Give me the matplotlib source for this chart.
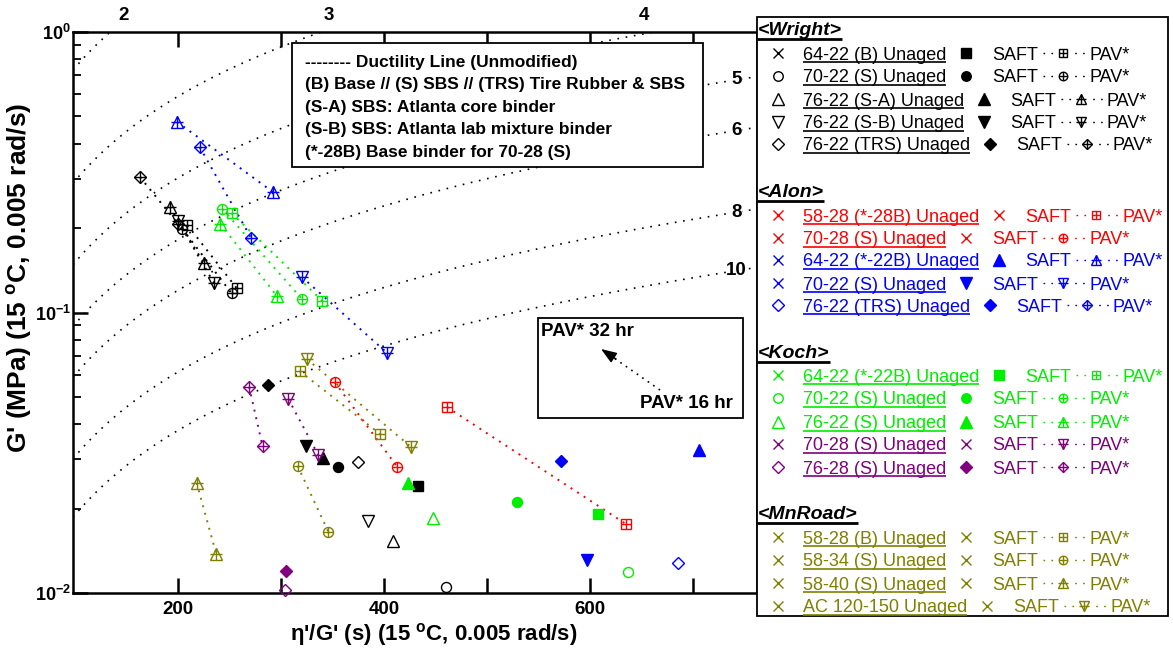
import numpy as np
import matplotlib
matplotlib.use('Agg')
import matplotlib.pyplot as plt
from matplotlib.ticker import FixedLocator, FixedFormatter, LogLocator, NullFormatter
from matplotlib.patches import Rectangle

plt.rcParams['font.family'] = ['Liberation Sans', 'DejaVu Sans']
plt.rcParams['mathtext.fontset'] = 'custom'
plt.rcParams['mathtext.rm'] = 'Liberation Sans'
plt.rcParams['mathtext.bf'] = 'Liberation Sans:bold'
plt.rcParams['mathtext.it'] = 'Liberation Sans:italic'

nan = np.nan

# ductility lines: constant G'/(eta'/G') in MPa/s, one per ductility (cm)
duct_levels = [2, 3, 4, 5, 6, 8, 10]
duct_ratio = [7.46e-3, 2.95e-3, 1.51e-3, 9.1e-4, 6.0e-4, 3.07e-4, 1.9e-4]

# ---- Wright (black) ----
wright_names = ['64-22 (B) Unaged', '70-22 (S) Unaged', '76-22 (S-A) Unaged',
                '76-22 (S-B) Unaged', '76-22 (TRS) Unaged']
wright_unaged_x = [nan, 460, 409, 384, 375]
wright_unaged_y = [nan, 0.0105, 0.0153, 0.0181, 0.0293]
wright_saft_x = [433, 355, 341, 324, 287]
wright_saft_y = [0.0241, 0.0281, 0.0303, 0.0334, 0.0551]
wright_pav16_x = [257, 252, 225, 235, 200]
wright_pav16_y = [0.122, 0.117, 0.150, 0.127, 0.207]
wright_pav32_x = [209, 204, 192, 200, 163]
wright_pav32_y = [0.205, 0.199, 0.238, 0.212, 0.304]

# ---- Alon (red / blue) ----
alon_names = ['58-28 (*-28B) Unaged', '70-28 (S) Unaged', '64-22 (*-22B) Unaged',
              '70-22 (S) Unaged', '76-22 (TRS) Unaged']
alon_unaged_x = [nan, nan, nan, nan, 685]
alon_unaged_y = [nan, nan, nan, nan, 0.0128]
alon_saft_x = [nan, nan, 706, 597, 572]
alon_saft_y = [nan, nan, 0.0324, 0.0131, 0.0296]
alon_pav16_x = [635, 413, 292, 403, 271]
alon_pav16_y = [0.0176, 0.0281, 0.269, 0.0717, 0.184]
alon_pav32_x = [461, 352, 199, 320, 221]
alon_pav32_y = [0.0460, 0.0565, 0.478, 0.134, 0.389]

# ---- Koch (green / purple) ----
koch_names = ['64-22 (*-22B) Unaged', '70-22 (S) Unaged', '76-22 (S) Unaged',
              '70-28 (S) Unaged', '76-28 (S) Unaged']
koch_unaged_x = [nan, 637, 447, nan, 304]
koch_unaged_y = [nan, 0.0119, 0.0185, nan, 0.01025]
koch_saft_x = [608, 529, 423, nan, 305]
koch_saft_y = [0.0191, 0.0211, 0.0247, nan, 0.0120]
koch_pav16_x = [340, 320, 296, 336, 282]
koch_pav16_y = [0.110, 0.112, 0.1145, 0.0311, 0.0334]
koch_pav32_x = [252, 243, 241, 307, 269]
koch_pav32_y = [0.226, 0.234, 0.207, 0.0492, 0.0543]

# ---- MnRoad (olive) ----
mn_names = ['58-28 (B) Unaged', '58-34 (S) Unaged', '58-40 (S) Unaged', 'AC 120-150 Unaged']
mn_unaged_x = [nan, nan, nan, nan]
mn_unaged_y = [nan, nan, nan, nan]
mn_saft_x = [nan, nan, nan, nan]
mn_saft_y = [nan, nan, nan, nan]
mn_pav16_x = [396, 346, 237, 426]
mn_pav16_y = [0.0369, 0.0165, 0.0138, 0.0332]
mn_pav32_x = [318, 316, 218, 325]
mn_pav32_y = [0.0618, 0.0284, 0.0247, 0.0683]

BLACK, RED, BLUE = '#000000', '#FF0000', '#0000FF'
GREEN, PURPLE, OLIVE = '#00EE00', '#800080', '#808000'

groups = [
    dict(title='<Wright>', names=wright_names, colors=[BLACK] * 5,
         um=['x', 'o', '^', 'v', 'D'], sm=['s', 'o', '^', 'v', 'D'], pm=['s', 'o', '^', 'v', 'D'],
         ux=wright_unaged_x, uy=wright_unaged_y, sx=wright_saft_x, sy=wright_saft_y,
         p16x=wright_pav16_x, p16y=wright_pav16_y, p32x=wright_pav32_x, p32y=wright_pav32_y,
         head=35, rows=[53, 76, 99, 122, 144]),
    dict(title='<Alon>', names=alon_names, colors=[RED, RED, BLUE, BLUE, BLUE],
         um=['x', 'x', 'x', 'x', 'D'], sm=['x', 'x', '^', 'v', 'D'], pm=['s', 'o', '^', 'v', 'D'],
         ux=alon_unaged_x, uy=alon_unaged_y, sx=alon_saft_x, sy=alon_saft_y,
         p16x=alon_pav16_x, p16y=alon_pav16_y, p32x=alon_pav32_x, p32y=alon_pav32_y,
         head=197, rows=[215, 238, 260, 283, 305]),
    dict(title='<Koch>', names=koch_names, colors=[GREEN, GREEN, GREEN, PURPLE, PURPLE],
         um=['x', 'o', '^', 'x', 'D'], sm=['s', 'o', '^', 'x', 'D'], pm=['s', 'o', '^', 'v', 'D'],
         ux=koch_unaged_x, uy=koch_unaged_y, sx=koch_saft_x, sy=koch_saft_y,
         p16x=koch_pav16_x, p16y=koch_pav16_y, p32x=koch_pav32_x, p32y=koch_pav32_y,
         head=358, rows=[375, 398, 422, 444, 467]),
    dict(title='<MnRoad>', names=mn_names, colors=[OLIVE] * 4,
         um=['x'] * 4, sm=['x'] * 4, pm=['s', 'o', '^', 'v'],
         ux=mn_unaged_x, uy=mn_unaged_y, sx=mn_saft_x, sy=mn_saft_y,
         p16x=mn_pav16_x, p16y=mn_pav16_y, p32x=mn_pav32_x, p32y=mn_pav32_y,
         head=519, rows=[537, 560, 583, 606]),
]

MS = {'s': 7.0, 'o': 7.2, '^': 8.4, 'v': 8.4, 'D': 6.3, 'x': 7.5}


def plain_marker(a, x, y, m, c, filled, **kw):
    ms = MS[m] * kw.pop('scale', 1.0)
    a.plot([x], [y], ls='none', marker=m, ms=ms, mec=c, mew=1.0,
           mfc=c if filled and m != 'x' else 'none', **kw)


def pav_marker(a, x, y, m, c, **kw):
    scale = kw.pop('scale', 1.0)
    ms = MS[m] * scale
    a.plot([x], [y], ls='none', marker=m, ms=ms, mec=c, mfc='none', mew=1.0, **kw)
    plus = ms * (1.41 if m == 'D' else 1.0)
    a.plot([x], [y], ls='none', marker='+', ms=plus, mec=c, mew=1.0, **kw)


fig = plt.figure(figsize=(11.73, 6.52), dpi=100)
ax = fig.add_axes([73 / 1173, 1 - 593 / 652, (757 - 73) / 1173, (593 - 32) / 652])
ax.set_yscale('log')
ax.set_xlim(98, 762)
ax.set_ylim(0.01, 1)

# ductility lines
xs = np.linspace(98, 762, 300)
for d, k in zip(duct_levels, duct_ratio):
    ax.plot(xs, k * xs, color='k', lw=1.2, ls=(0, (1, 4)), zorder=1)

top_label_x = {2: 147, 3: 346, 4: 652}
for d, k in zip(duct_levels, duct_ratio):
    if d in top_label_x:
        ax.text(top_label_x[d], 1.03, str(d), transform=ax.get_xaxis_transform(),
                ha='center', va='center', fontsize=13.5, fontweight='bold', clip_on=False)
    else:
        ax.text(742, k * 742, str(d), ha='center', va='center', fontsize=13.5,
                fontweight='bold', zorder=3,
                bbox=dict(fc='white', ec='none', pad=0.3))

# data points
for g in groups:
    for i in range(len(g['names'])):
        c = g['colors'][i]
        ax.plot([g['p32x'][i], g['p16x'][i]], [g['p32y'][i], g['p16y'][i]],
                color=c, lw=1.4, ls=(0, (1, 3)), zorder=2)
        pav_marker(ax, g['p16x'][i], g['p16y'][i], g['pm'][i], c, zorder=4)
        pav_marker(ax, g['p32x'][i], g['p32y'][i], g['pm'][i], c, zorder=4)
        if not np.isnan(g['sx'][i]):
            plain_marker(ax, g['sx'][i], g['sy'][i], g['sm'][i], c, True, zorder=4, clip_on=False)
        if not np.isnan(g['ux'][i]):
            plain_marker(ax, g['ux'][i], g['uy'][i], g['um'][i], c, False, zorder=4, clip_on=False)

# axes styling
for s in ax.spines.values():
    s.set_linewidth(1.8)
ax.xaxis.set_major_locator(FixedLocator([200, 300, 400, 500, 600, 700]))
ax.xaxis.set_major_formatter(FixedFormatter(['200', '', '400', '', '600', '']))
ax.yaxis.set_major_locator(FixedLocator([0.01, 0.1, 1]))
ax.yaxis.set_major_formatter(FixedFormatter([r'$\mathbf{10^{-2}}$', r'$\mathbf{10^{-1}}$',
                                             r'$\mathbf{10^{0}}$']))
ax.yaxis.set_minor_locator(LogLocator(base=10, subs=np.arange(2, 10)))
ax.yaxis.set_minor_formatter(NullFormatter())
ax.tick_params(which='major', direction='in', length=11, width=1.8, top=True, right=False,
               labelsize=13.5)
ax.tick_params(axis='x', which='major', pad=6)
ax.tick_params(axis='y', which='major', pad=1.5, labelsize=13)
ax.tick_params(which='minor', direction='in', length=6, width=1.3, top=True, right=False)
for lab in ax.get_xticklabels():
    lab.set_fontweight('bold')

# overlay in pixel coordinates for labels, boxes and legend
lax = fig.add_axes([0, 0, 1, 1], zorder=5)
lax.set_xlim(0, 1173)
lax.set_ylim(652, 0)
lax.axis('off')

lax.text(434, 634, "η'/G' (s) (15 $^{\\mathbf{o}}$C, 0.005 rad/s)", ha='center', va='center',
         fontsize=16, fontweight='bold')
lax.text(20, 278, "G' (MPa) (15 $^{\\mathbf{o}}$C, 0.005 rad/s)", ha='center', va='center',
         rotation=90, fontsize=19, fontweight='bold')

# description box
lax.add_patch(Rectangle((292, 43), 411, 124, fc='white', ec='black', lw=1.3))
box_lines = ['-------- Ductility Line (Unmodified)',
             '(B) Base // (S) SBS // (TRS) Tire Rubber & SBS',
             '(S-A) SBS: Atlanta core binder',
             '(S-B) SBS: Atlanta lab mixture binder',
             '(*-28B) Base binder for 70-28 (S)']
for j, s in enumerate(box_lines):
    lax.text(305, 62 + j * 22.6, s, ha='left', va='center', fontsize=12.5, fontweight='bold')

# PAV aging box
lax.add_patch(Rectangle((538, 318), 205, 100, fc='white', ec='black', lw=1.3))
lax.text(541, 332, 'PAV* 32 hr', ha='left', va='center', fontsize=13.5, fontweight='bold')
lax.text(733, 403, 'PAV* 16 hr', ha='right', va='center', fontsize=13.5, fontweight='bold')
lax.plot([660, 614], [390, 358], color='k', lw=1.2, ls=(0, (1, 3)))
lax.annotate('', xy=(601, 349), xytext=(616, 359),
             arrowprops=dict(arrowstyle='-|>,head_length=0.6,head_width=0.22', color='k',
                             lw=1.0, mutation_scale=16, shrinkA=0, shrinkB=0))

# legend box
lax.add_patch(Rectangle((757, 17), 411, 599, fc='white', ec='black', lw=1.3))

texts = []
for g in groups:
    t = lax.text(758, g['head'], g['title'], ha='left', va='baseline', fontsize=14,
                 fontweight='bold', fontstyle='italic')
    texts.append(('head', g, t, None))
    for i, name in enumerate(g['names']):
        y = g['rows'][i]
        t = lax.text(803, y + 6.5, name, ha='left', va='baseline', fontsize=13,
                     color=g['colors'][i])
        texts.append(('row', g, t, i))

fig.canvas.draw()
renderer = fig.canvas.get_renderer()

for kind, g, t, i in texts:
    bb = t.get_window_extent(renderer=renderer)
    if kind == 'head':
        lax.plot([757, bb.x1], [g['head'] + 4, g['head'] + 4], color='k', lw=2.0,
                 solid_capstyle='butt')
        continue
    c = g['colors'][i]
    y = g['rows'][i]
    lax.plot([803, bb.x1], [y + 9, y + 9], color=c, lw=1.2, solid_capstyle='butt')
    plain_marker(lax, 778, y, g['um'][i], c, False, scale=0.95)
    xs_m = bb.x1 + 20
    plain_marker(lax, xs_m, y, g['sm'][i], c, True, scale=0.95)
    ts = lax.text(xs_m + 26, y + 6.5, 'SAFT', ha='left', va='baseline', fontsize=13, color=c)
    e2 = ts.get_window_extent(renderer=renderer).x1
    lax.plot([e2 + 5, e2 + 47], [y, y], color=c, lw=1.0, ls=(0, (1.2, 4.5)))
    lax.plot([e2 + 25], [y], ls='none', marker='s', ms=9, mfc='white', mec='none')
    pav_marker(lax, e2 + 25, y, g['pm'][i], c, scale=0.85)
    lax.text(e2 + 51, y + 6.5, 'PAV*', ha='left', va='baseline', fontsize=13, color=c)

fig.savefig('out.png', dpi=100)
